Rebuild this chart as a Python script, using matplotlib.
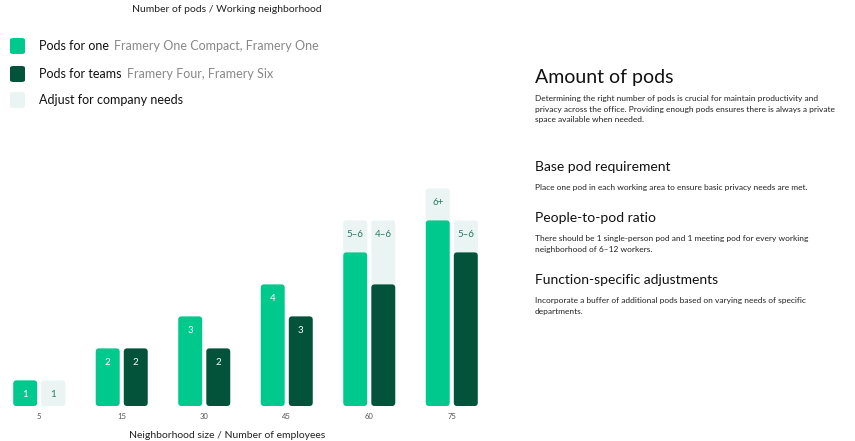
import matplotlib.pyplot as plt
from matplotlib.patches import FancyBboxPatch

plt.rcParams['font.family'] = 'Lato'

# === Daten ===
sizes = ['5', '15', '30', '45', '60', '75']
one_base = [1, 2, 3, 4, 5, 6]
one_top = [1, 2, 3, 4, 6, 7]
team_base = [0, 2, 2, 3, 4, 5]
team_top = [1, 2, 2, 3, 6, 6]
one_labels = ['1', '2', '3', '4', '5–6', '6+']
team_labels = ['1', '2', '2', '3', '4–6', '5–6']

GREEN = '#00c98d'
DARK = '#03523a'
LIGHT = '#e9f4f3'
Y0 = 0.2
W = 0.29
OFF = 0.17

fig = plt.figure(figsize=(8.55, 4.41), dpi=100)
ax = fig.add_axes([12/855, 1 - 406/441, 467/855, 236/441])
ax.set_xlim(-0.33, 5.33)
ax.set_ylim(Y0, Y0 + 236/32)
ax.axis('off')

def bar(x, top, color):
    if top <= Y0:
        return
    p = FancyBboxPatch((x - W/2, Y0), W, top - Y0,
                       boxstyle='round,pad=0,rounding_size=0.04',
                       mutation_aspect=2.6, fc=color, ec='none')
    ax.add_patch(p)

for i in range(len(sizes)):
    x1, x2 = i - OFF, i + OFF
    bar(x1, one_top[i], LIGHT)
    bar(x1, one_base[i], GREEN)
    bar(x2, team_top[i], LIGHT)
    bar(x2, team_base[i], DARK)
    # labels
    ax.text(x1, one_top[i] - 0.45, one_labels[i], ha='center', va='center', fontsize=7,
            color='white' if one_top[i] == one_base[i] else '#2c7a62')
    if team_base[i] == team_top[i]:
        c = 'white'
    else:
        c = '#2c7a62' if team_base[i] > 0 or True else 'white'
    ax.text(x2, team_top[i] - 0.45, team_labels[i], ha='center', va='center', fontsize=7, color=c)
    ax.text(i, -0.13, sizes[i], ha='center', va='center', fontsize=5.5, color='#555555')

fig.text(227/855, 1 - 435/441, 'Neighborhood size / Number of employees', ha='center', va='center',
         fontsize=7.5, color='#222222')
fig.text(227/855, 1 - 9/441, 'Number of pods / Working neighborhood', ha='center', va='center',
         fontsize=7.5, color='#222222')

# Legende
legend = [(GREEN, 'Pods for one', 'Framery One Compact, Framery One', 46),
          (DARK, 'Pods for teams', 'Framery Four, Framery Six', 74),
          (LIGHT, 'Adjust for company needs', '', 100)]
for col, lab, sub, y in legend:
    fig.patches.append(FancyBboxPatch((10/855, 1 - (y + 8)/441), 15/855, 16/441,
                                      boxstyle='round,pad=0,rounding_size=0.004',
                                      transform=fig.transFigure, fc=col, ec='none'))
    t = fig.text(39/855, 1 - y/441, lab, ha='left', va='center', fontsize=9, color='#111111')
    fig.canvas.draw()
    bb = t.get_window_extent()
    if sub:
        fig.text(bb.x1/855 + 5/855, 1 - y/441, sub, ha='left', va='center', fontsize=9, color='#888888')

# Rechter Textblock
X = 535/855
fig.text(X, 1 - 77/441, 'Amount of pods', fontsize=14, va='center', color='#111111')
fig.text(X, 1 - 95/441,
         'Determining the right number of pods is crucial for maintain productivity and\n'
         'privacy across the office. Providing enough pods ensures there is always a private\n'
         'space available when needed.', fontsize=6, va='top', color='#222222', linespacing=1.6)
sections = [('Base pod requirement', 167,
             'Place one pod in each working area to ensure basic privacy needs are met.'),
            ('People-to-pod ratio', 218,
             'There should be 1 single-person pod and 1 meeting pod for every working\n'
             'neighborhood of 6–12 workers.'),
            ('Function-specific adjustments', 280,
             'Incorporate a buffer of additional pods based on varying needs of specific\n'
             'departments.')]
for head, y, body in sections:
    fig.text(X, 1 - y/441, head, fontsize=10, va='center', color='#111111')
    fig.text(X, 1 - (y + 17)/441, body, fontsize=6, va='top', color='#222222', linespacing=1.6)

fig.savefig('out.png', dpi=100)
